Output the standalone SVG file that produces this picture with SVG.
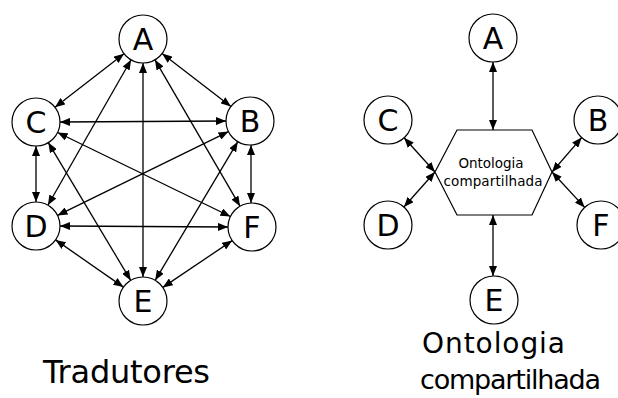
<svg xmlns="http://www.w3.org/2000/svg" width="618" height="398" viewBox="0 0 618 398">
<style>
.n circle{fill:#fff;stroke:#000;stroke-width:1.2}
.n text{font-family:"DejaVu Sans",sans-serif;font-size:30px;text-anchor:middle;fill:#000}
.e line{stroke:#000;stroke-width:1.3;marker-start:url(#ah);marker-end:url(#ah)}
.lbl{font-family:"DejaVu Sans",sans-serif;fill:#000}
.hx text{font-family:"DejaVu Sans",sans-serif;font-size:13.5px;text-anchor:middle;fill:#000}
</style>
<defs>
<marker id="ah" viewBox="0 0 10 8" refX="10" refY="4" markerWidth="10" markerHeight="8" markerUnits="userSpaceOnUse" orient="auto-start-reverse">
<path d="M0,0 L10,4 L0,8 z" fill="#000"/>
</marker>
</defs>
<rect width="618" height="398" fill="#fff"/>
<g id="connectors" class="e">
<line x1="162.1" y1="53.6" x2="230.9" y2="106.4"/>
<line x1="124.0" y1="53.7" x2="55.0" y2="107.3"/>
<line x1="131.1" y1="59.8" x2="47.9" y2="205.2"/>
<line x1="143" y1="63" x2="143" y2="277"/>
<line x1="155.0" y1="59.8" x2="240.0" y2="206.2"/>
<line x1="60" y1="122" x2="226" y2="121"/>
<line x1="57.6" y1="132.5" x2="230.4" y2="216.5"/>
<line x1="36" y1="146" x2="36" y2="202"/>
<line x1="48.3" y1="142.6" x2="130.7" y2="280.4"/>
<line x1="228.5" y1="131.6" x2="57.5" y2="215.4"/>
<line x1="251" y1="145" x2="251" y2="203"/>
<line x1="237.8" y1="141.7" x2="155.2" y2="280.3"/>
<line x1="60" y1="226" x2="228" y2="227"/>
<line x1="55.6" y1="239.9" x2="123.4" y2="287.1"/>
<line x1="232.2" y1="240.6" x2="162.8" y2="287.4"/>
<line x1="493" y1="62" x2="493" y2="130"/>
<line x1="493" y1="215" x2="493" y2="276"/>
<line x1="404.1" y1="137.8" x2="435" y2="172"/>
<line x1="403.9" y1="207.0" x2="435" y2="172"/>
<line x1="581.7" y1="137.6" x2="552" y2="172"/>
<line x1="584.7" y1="207.4" x2="552" y2="172"/>
</g>
<g id="L-A" class="n"><circle cx="143" cy="39" r="24"/><text x="143" y="50">A</text></g>
<g id="L-B" class="n"><circle cx="250" cy="121" r="24"/><text x="250" y="132">B</text></g>
<g id="L-C" class="n"><circle cx="36" cy="122" r="24"/><text x="36" y="133">C</text></g>
<g id="L-D" class="n"><circle cx="36" cy="226" r="24"/><text x="36" y="237">D</text></g>
<g id="L-F" class="n"><circle cx="252" cy="227" r="24"/><text x="252" y="238">F</text></g>
<g id="L-E" class="n"><circle cx="143" cy="301" r="24"/><text x="143" y="312">E</text></g>
<g id="R-A" class="n"><circle cx="493" cy="38" r="24"/><text x="493" y="49">A</text></g>
<g id="R-C" class="n"><circle cx="388" cy="120" r="24"/><text x="388" y="131">C</text></g>
<g id="R-B" class="n"><circle cx="598" cy="120" r="24"/><text x="598" y="131">B</text></g>
<g id="R-D" class="n"><circle cx="388" cy="225" r="24"/><text x="388" y="236">D</text></g>
<g id="R-F" class="n"><circle cx="601" cy="225" r="24"/><text x="601" y="236">F</text></g>
<g id="R-E" class="n"><circle cx="494" cy="300" r="24"/><text x="494" y="311">E</text></g>
<g id="hex" class="hx">
<polygon points="457,130 532,130 552,172 532,215 457,215 435,172" fill="#fff" stroke="#000" stroke-width="1.2"/>
<text x="491" y="168" textLength="65">Ontologia</text>
<text x="493" y="186" textLength="99">compartilhada</text>
</g>
<g id="labels">
<text class="lbl" x="43" y="383" font-size="32" textLength="167">Tradutores</text>
<text class="lbl" x="422" y="353" font-size="28" textLength="143">Ontologia</text>
<text class="lbl" x="420" y="389" font-size="27" textLength="181">compartilhada</text>
</g>
</svg>
